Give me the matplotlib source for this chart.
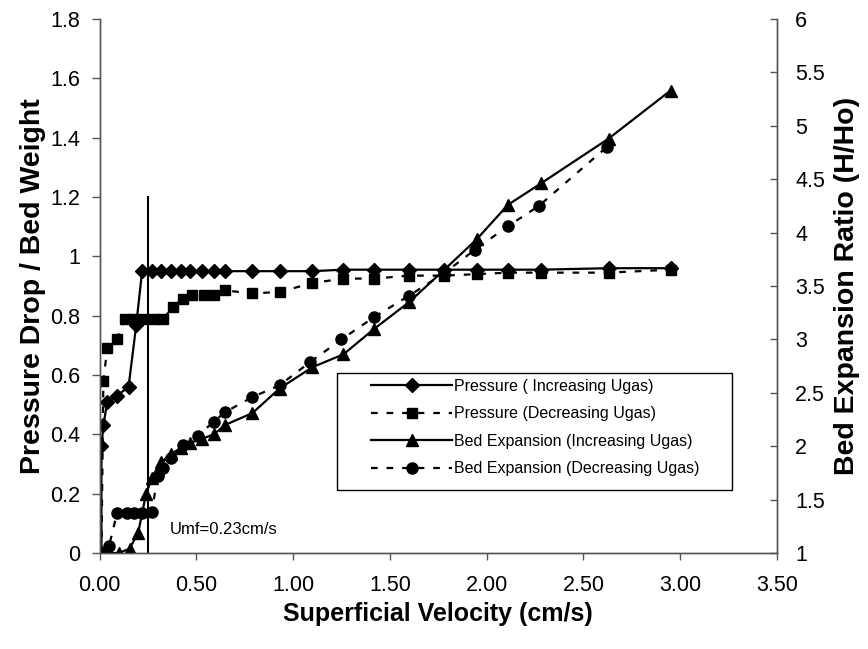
import matplotlib
matplotlib.use('Agg')
import matplotlib.pyplot as plt
from matplotlib.patches import Rectangle
from matplotlib.ticker import FormatStrFormatter, FuncFormatter

plt.rcParams['font.family'] = ['Liberation Sans', 'DejaVu Sans']

# pressure drop / bed weight, increasing gas velocity (diamonds)
u_p_inc = [0.01, 0.01, 0.02, 0.04, 0.09, 0.15, 0.19, 0.22, 0.27, 0.32, 0.37, 0.42, 0.47, 0.53,
           0.59, 0.65, 0.79, 0.93, 1.10, 1.26, 1.42, 1.60, 1.78, 1.95, 2.11, 2.28, 2.63, 2.95]
p_inc = [0.0, 0.36, 0.43, 0.51, 0.53, 0.56, 0.77, 0.95, 0.95, 0.95, 0.95, 0.95, 0.95, 0.95,
         0.95, 0.95, 0.95, 0.95, 0.95, 0.955, 0.955, 0.955, 0.955, 0.955, 0.955, 0.955, 0.96, 0.96]

# pressure drop / bed weight, decreasing gas velocity (squares)
u_p_dec = [0.01, 0.02, 0.04, 0.09, 0.13, 0.18, 0.23, 0.28, 0.33, 0.38, 0.43, 0.48, 0.54, 0.59,
           0.65, 0.79, 0.93, 1.10, 1.26, 1.42, 1.60, 1.78, 1.95, 2.11, 2.28, 2.63, 2.95]
p_dec = [0.0, 0.58, 0.69, 0.72, 0.79, 0.79, 0.79, 0.79, 0.79, 0.83, 0.855, 0.87, 0.87, 0.87,
         0.885, 0.875, 0.88, 0.91, 0.925, 0.925, 0.935, 0.935, 0.94, 0.945, 0.945, 0.945, 0.955]

# bed expansion ratio H/Ho, increasing gas velocity (triangles)
u_b_inc = [0.0, 0.05, 0.10, 0.155, 0.20, 0.24, 0.27, 0.30, 0.32, 0.37, 0.42, 0.47, 0.53, 0.59,
           0.65, 0.79, 0.93, 1.10, 1.26, 1.42, 1.60, 1.78, 1.95, 2.11, 2.28, 2.63, 2.95]
h_inc = [1.0, 1.0, 1.0, 1.04, 1.19, 1.55, 1.70, 1.78, 1.85, 1.93, 1.98, 2.03, 2.07, 2.11,
         2.20, 2.31, 2.54, 2.74, 2.86, 3.10, 3.35, 3.65, 3.94, 4.26, 4.46, 4.88, 5.33]

# bed expansion ratio H/Ho, decreasing gas velocity (circles)
u_b_dec = [0.0, 0.05, 0.09, 0.14, 0.18, 0.22, 0.27, 0.30, 0.33, 0.37, 0.43, 0.51, 0.59, 0.65,
           0.79, 0.93, 1.09, 1.25, 1.42, 1.60, 1.78, 1.94, 2.11, 2.27, 2.62]
h_dec = [1.0, 1.07, 1.37, 1.37, 1.37, 1.37, 1.38, 1.72, 1.80, 1.89, 2.01, 2.10, 2.23, 2.32,
         2.46, 2.57, 2.79, 3.00, 3.21, 3.41, 3.62, 3.84, 4.06, 4.25, 4.80]

umf_x = 0.25
umf_top = 1.2

W, H = 868, 649
fig = plt.figure(figsize=(W / 100, H / 100), dpi=100)
ax = fig.add_axes([99.5 / W, 1 - 553 / H, 677.5 / W, 534 / H])
ax2 = ax.twinx()

dash = (0, (3, 4))
l1, = ax.plot(u_p_inc, p_inc, '-', color='black', lw=1.6, marker='D', ms=7.5,
              label='Pressure ( Increasing Ugas)')
l2, = ax.plot(u_p_dec, p_dec, linestyle=dash, color='black', lw=1.6, marker='s', ms=7.5,
              label='Pressure (Decreasing Ugas)')
l3, = ax2.plot(u_b_inc, h_inc, '-', color='black', lw=1.6, marker='^', ms=8.5,
               label='Bed Expansion (Increasing Ugas)')
l4, = ax2.plot(u_b_dec, h_dec, linestyle=dash, color='black', lw=1.6, marker='o', ms=8,
               label='Bed Expansion (Decreasing Ugas)')

ax.plot([umf_x, umf_x], [0, umf_top], color='black', lw=1.5)
ax.text(0.363, 0.078, 'Umf=0.23cm/s', fontsize=12, va='center', ha='left')

ax.set_xlim(0, 3.5)
ax.set_ylim(0, 1.8)
ax2.set_ylim(1, 6)
ax.set_xticks([0, 0.5, 1.0, 1.5, 2.0, 2.5, 3.0, 3.5])
ax.set_yticks([0, 0.2, 0.4, 0.6, 0.8, 1.0, 1.2, 1.4, 1.6, 1.8])
ax2.set_yticks([1, 1.5, 2, 2.5, 3, 3.5, 4, 4.5, 5, 5.5, 6])
ax.xaxis.set_major_formatter(FormatStrFormatter('%.2f'))
ax.yaxis.set_major_formatter(FuncFormatter(lambda v, p: '%g' % round(v, 1)))
ax2.yaxis.set_major_formatter(FuncFormatter(lambda v, p: '%g' % v))

for a in (ax, ax2):
    a.spines['top'].set_visible(False)
    for s in a.spines.values():
        s.set_linewidth(1.0)
        s.set_color('#555555')
ax.tick_params(axis='x', direction='out', length=5, width=1, color='#555555',
               labelsize=15.5, pad=11)
ax.tick_params(axis='y', direction='out', length=6, width=1, color='#555555',
               labelsize=15.5, pad=8)
ax2.tick_params(axis='y', direction='in', length=5, width=1, color='#555555',
                labelsize=15.5, pad=13)

ax.set_xlabel('Superficial Velocity (cm/s)', fontsize=18, fontweight='bold')
ax.set_ylabel('Pressure Drop / Bed Weight', fontsize=20.5, fontweight='bold')
ax2.set_ylabel('Bed Expansion Ratio (H/Ho)', fontsize=20.5, fontweight='bold')
ax.xaxis.set_label_coords(0.5, -0.092)
ax.yaxis.set_label_coords(-0.0785, 0.5)
ax2.yaxis.set_label_coords(1.0835, 0.5)

# legend frame drawn as a separate box, entries placed inside it
fig.patches.append(Rectangle((337 / W, 1 - 490 / H), 395 / W, 117 / H,
                             transform=fig.transFigure, facecolor='white',
                             edgecolor='black', lw=1.0, zorder=5))
leg = fig.legend(handles=[l1, l2, l3, l4], loc='upper left',
                 bbox_to_anchor=(366 / W, 1 - 374 / H),
                 fontsize=11.5, frameon=False, handlelength=5.1, handletextpad=0.1,
                 labelspacing=0.78, borderpad=0.3, borderaxespad=0)
leg.set_zorder(6)

plt.savefig('out.png', dpi=100)
